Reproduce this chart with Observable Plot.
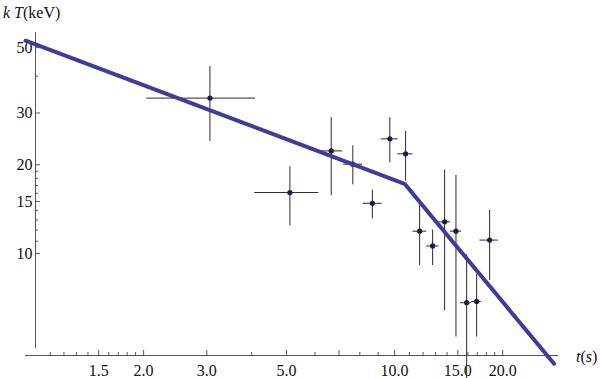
<!DOCTYPE html>
<html>
<head>
<meta charset="utf-8">
<script src="https://cdn.jsdelivr.net/npm/d3@7"></script>
<script src="https://cdn.jsdelivr.net/npm/@observablehq/plot@0.6"></script>
<style>
  html, body { margin: 0; padding: 0; background: #fff; }
  #chart svg { display: block; }
  #chart svg text { font-family: "Liberation Serif", "Times New Roman", serif; }
</style>
</head>
<body>
<div id="chart"></div>
<script>
// ---- data ----
const tVals = [3.06, 5.11, 6.66, 7.65, 8.67, 9.70, 10.73, 11.74, 12.76, 13.78, 14.82, 15.87, 16.92, 18.39];
const tLo   = [2.04, 4.08, 6.14, 7.21, 8.18, 9.18, 10.20, 11.25, 12.28, 13.29, 14.30, 15.27, 16.39, 17.29];
const tHi   = [4.10, 6.15, 7.17, 8.14, 9.24, 10.23, 11.25, 12.28, 13.29, 14.32, 15.37, 16.39, 17.44, 19.45];
const kT    = [33.7, 16.1, 22.3, 20.1, 14.8, 24.5, 21.8, 11.9, 10.6, 12.8, 11.9, 6.80, 6.87, 11.1];
const kTLo  = [24.0, 12.4, 15.7, 17.1, 13.1, 20.3, 17.6, 9.1, 9.1, 6.4, 5.2, 3.7, 5.2, 8.1];
const kTHi  = [43.1, 19.7, 28.9, 23.2, 16.4, 28.9, 26.0, 14.6, 12.0, 19.2, 18.4, 9.9, 8.5, 14.0];

const fitT  = [0.938, 10.66, 27.8];
const fitKT = [52.8, 17.24, 4.22];

const xMajor = [1.5, 2, 3, 5, 7, 10, 15, 20];
const xMinor = [1.1, 1.2, 1.3, 1.4, 1.6, 1.7, 1.8, 1.9, 4, 6, 8, 9, 11, 12, 13, 14, 16, 17, 18, 19];
const yMajor = [10, 15, 20, 30, 50];
const yMinor = [11, 12, 13, 14, 16, 17, 18, 19, 40];

const xDomain = [1, 28.6];
const yDomain = [4.5, 56.3];

// ---- build tables ----
const points = tVals.map((t, i) => ({t, tlo: tLo[i], thi: tHi[i], k: kT[i], klo: kTLo[i], khi: kTHi[i]}));
const fit = fitT.map((t, i) => ({t, k: fitKT[i]}));

const font = "Liberation Serif, Times New Roman, serif";
const axisColor = "#555";
const errColor = "#2a2a2a";
const x0 = xDomain[0], y0 = yDomain[0];

const chart = Plot.plot({
  width: 600,
  height: 378,
  marginLeft: 35,
  marginRight: 42,
  marginTop: 32,
  marginBottom: 23,
  style: {fontFamily: font, background: "#fff"},
  x: {type: "log", domain: xDomain, label: null},
  y: {type: "log", domain: yDomain, label: null},
  marks: [
    // axis lines
    Plot.ruleY([y0], {y: d => d, stroke: axisColor, insetLeft: -10}),
    Plot.ruleX([x0], {x: d => d, y1: yDomain[0], y2: yDomain[1], stroke: axisColor, insetTop: -7, insetBottom: 0}),
    // x ticks (inward)
    Plot.ruleX(xMajor, {x: d => d, y1: y0, y2: y0, insetBottom: 5, stroke: axisColor}),
    Plot.ruleX(xMinor, {x: d => d, y1: y0, y2: y0, insetBottom: 3, stroke: axisColor}),
    // y ticks (inward)
    Plot.ruleY(yMajor, {y: d => d, x1: x0, x2: x0, insetRight: -5, stroke: axisColor}),
    Plot.ruleY(yMinor, {y: d => d, x1: x0, x2: x0, insetRight: -3, stroke: axisColor}),
    // tick labels
    Plot.axisX(xMajor, {tickSize: 0, tickPadding: 9, tickFormat: d => d.toFixed(1), fontSize: 16, fill: "#111", label: null}),
    Plot.axisY(yMajor, {tickSize: 0, tickPadding: 3, tickFormat: d => String(d), fontSize: 16, fill: "#111", label: null}),
    // error bars
    Plot.ruleX(points, {x: "t", y1: "klo", y2: "khi", stroke: errColor, strokeWidth: 1}),
    Plot.ruleY(points, {y: "k", x1: "tlo", x2: "thi", stroke: errColor, strokeWidth: 1}),
    // points
    Plot.dot(points, {x: "t", y: "k", r: 2.6, fill: "#1b1b45", stroke: "none"}),
    // fitted broken power law
    Plot.line(fit, {x: "t", y: "k", stroke: "#3d3d99", strokeWidth: 4, strokeLinejoin: "round"})
  ]
});

document.getElementById("chart").appendChild(chart);

// rich-text axis titles
const svg = d3.select(chart);
const yTitle = svg.append("text")
  .attr("x", 3).attr("y", 18)
  .attr("text-anchor", "start")
  .attr("font-size", 16).attr("fill", "#111");
yTitle.append("tspan").attr("font-style", "italic").text("k T");
yTitle.append("tspan").text("(keV)");

const xTitle = svg.append("text")
  .attr("x", 576).attr("y", 362)
  .attr("text-anchor", "start")
  .attr("font-size", 16).attr("fill", "#111");
xTitle.append("tspan").attr("font-style", "italic").text("t");
xTitle.append("tspan").text("(");
xTitle.append("tspan").attr("font-style", "italic").text("s");
xTitle.append("tspan").text(")");
</script>
</body>
</html>
